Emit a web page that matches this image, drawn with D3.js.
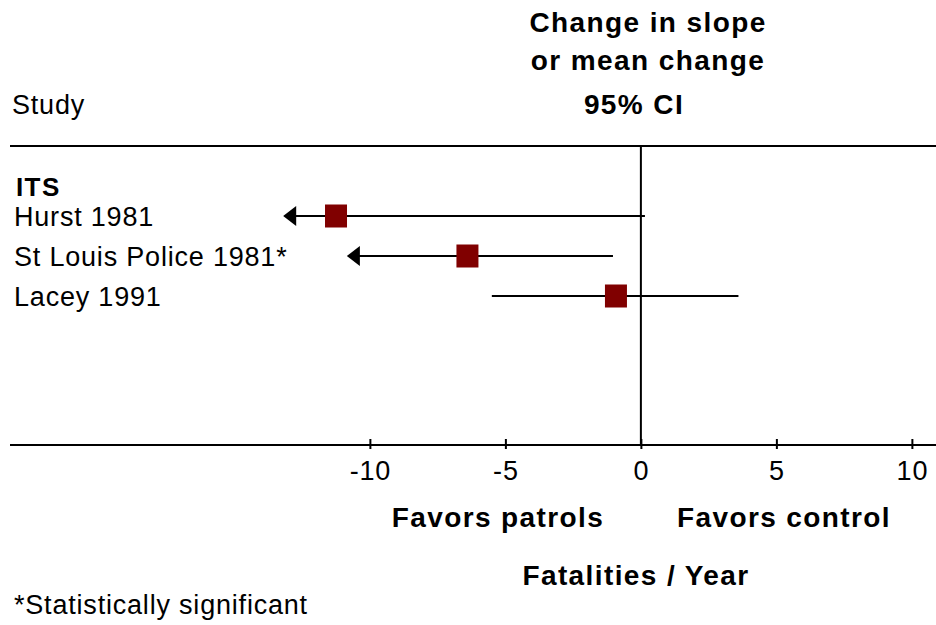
<!DOCTYPE html>
<html>
<head>
<meta charset="utf-8">
<script src="https://cdn.jsdelivr.net/npm/d3@7"></script>
<style>
  body { margin: 0; background: #fff; }
  text { font-family: "Liberation Sans", Arial, sans-serif; fill: #000; letter-spacing: 0.8px; }
  .bold { font-weight: bold; letter-spacing: 1.4px; }
</style>
</head>
<body>
<div id="chart"></div>
<script>
// forest plot data
const studies = ["Hurst 1981", "St Louis Police 1981*", "Lacey 1991"];
const estimates = [-11.25, -6.4, -0.92];
const lowerCI = [-13.2, -10.85, -5.5];     // where the line (or arrow tip) stops
const upperCI = [0.15, -1.03, 3.6];
const offScale = [true, true, false];      // lower CI runs past the plot -> arrow
const tickValues = [-10, -5, 0, 5, 10];

const width = 936;
const height = 625;

const svg = d3.select("#chart")
  .append("svg")
  .attr("width", width)
  .attr("height", height);

// x scale: 0 sits at 641, about 27.1px per unit
const x = d3.scaleLinear()
  .domain([-23.28, 10.89])
  .range([10, 936]);

const y = d3.scalePoint()
  .domain(studies)
  .range([216, 296]);

const topY = 146;
const axisY = 445;

// header texts
svg.append("text").attr("class", "bold")
  .attr("x", 648).attr("y", 32)
  .attr("text-anchor", "middle").attr("font-size", 28)
  .text("Change in slope");
svg.append("text").attr("class", "bold")
  .attr("x", 648).attr("y", 70)
  .attr("text-anchor", "middle").attr("font-size", 28)
  .text("or mean change");
svg.append("text").attr("class", "bold")
  .attr("x", 634).attr("y", 114)
  .attr("text-anchor", "middle").attr("font-size", 28)
  .text("95% CI");
svg.append("text")
  .attr("x", 12).attr("y", 114)
  .attr("font-size", 27)
  .text("Study");

// top rule
svg.append("line")
  .attr("x1", 10).attr("x2", 936)
  .attr("y1", topY).attr("y2", topY)
  .attr("stroke", "#000").attr("stroke-width", 2);

// line of no effect
svg.append("line")
  .attr("x1", x(0)).attr("x2", x(0))
  .attr("y1", topY).attr("y2", axisY)
  .attr("stroke", "#000").attr("stroke-width", 2);

// bottom axis (plain baseline + ticks)
svg.append("line")
  .attr("x1", x.range()[0]).attr("x2", x.range()[1])
  .attr("y1", axisY).attr("y2", axisY)
  .attr("stroke", "#000").attr("stroke-width", 2);

const xAxis = svg.append("g")
  .attr("transform", `translate(0,${axisY})`)
  .call(d3.axisBottom(x)
    .tickValues(tickValues)
    .tickFormat(d => String(d))
    .tickSizeOuter(0).tickSize(4).tickPadding(12));
xAxis.select(".domain").remove();
xAxis.selectAll(".tick line").attr("y1", -6).attr("stroke-width", 2);
xAxis.selectAll(".tick text")
  .attr("font-family", "Liberation Sans, Arial, sans-serif")
  .attr("font-size", 27)
  .attr("dy", "0.71em");

// group label
svg.append("text").attr("class", "bold")
  .attr("x", 16).attr("y", 196)
  .attr("font-size", 26)
  .text("ITS");

const rows = studies.map((s, i) => ({
  name: s, est: estimates[i], lo: lowerCI[i], hi: upperCI[i], arrow: offScale[i]
}));

// study names
svg.selectAll(".study")
  .data(rows)
  .enter()
  .append("text")
    .attr("class", "study")
    .attr("x", 14)
    .attr("y", d => y(d.name) + 10)
    .attr("font-size", 27)
    .text(d => d.name);

// CI lines
svg.selectAll(".ci")
  .data(rows)
  .enter()
  .append("line")
    .attr("class", "ci")
    .attr("x1", d => x(d.lo) + (d.arrow ? 6 : 0))
    .attr("x2", d => x(d.hi))
    .attr("y1", d => y(d.name))
    .attr("y2", d => y(d.name))
    .attr("stroke", "#000").attr("stroke-width", 2);

// arrowheads for CIs running off the left
svg.selectAll(".arrow")
  .data(rows.filter(d => d.arrow))
  .enter()
  .append("path")
    .attr("class", "arrow")
    .attr("d", d => {
      const tx = x(d.lo), ty = y(d.name);
      return `M${tx},${ty} L${tx + 13},${ty - 10} L${tx + 13},${ty + 10} Z`;
    })
    .attr("fill", "#000");

// point estimates
svg.selectAll(".est")
  .data(rows)
  .enter()
  .append("rect")
    .attr("class", "est")
    .attr("x", d => x(d.est) - 11)
    .attr("y", d => y(d.name) - 11.5)
    .attr("width", 22)
    .attr("height", 23)
    .attr("fill", "#800000");

// bottom labels
svg.append("text").attr("class", "bold")
  .attr("x", 498).attr("y", 527)
  .attr("text-anchor", "middle").attr("font-size", 28)
  .text("Favors patrols");
svg.append("text").attr("class", "bold")
  .attr("x", 784).attr("y", 527)
  .attr("text-anchor", "middle").attr("font-size", 28)
  .text("Favors control");
svg.append("text").attr("class", "bold")
  .attr("x", 636).attr("y", 585)
  .attr("text-anchor", "middle").attr("font-size", 28)
  .text("Fatalities / Year");
svg.append("text")
  .attr("x", 14).attr("y", 614)
  .attr("font-size", 27)
  .text("*Statistically significant");
</script>
</body>
</html>
